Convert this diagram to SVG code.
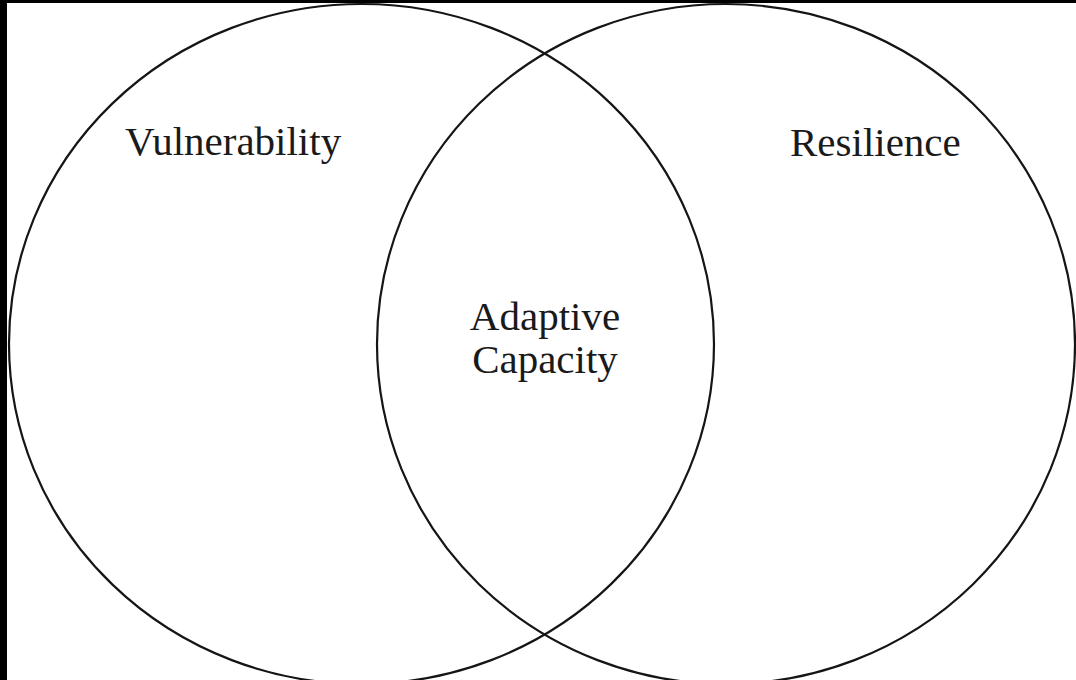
<svg xmlns="http://www.w3.org/2000/svg" width="1076" height="680" viewBox="0 0 1076 680">
<style>
.set{fill:none;stroke:#151515;stroke-width:2.2}
.lbl{font-family:"Liberation Serif","Times New Roman",serif;font-size:41px;fill:#1a1a1a}
</style>
<rect x="0" y="0" width="1076" height="680" fill="#ffffff"/>
<rect x="0" y="0" width="7" height="680" fill="#000000"/>
<rect x="0" y="0" width="1076" height="3" fill="#000000"/>
<g id="vulnerability">
<ellipse class="set" cx="361.5" cy="344" rx="352.5" ry="340"/>
<text class="lbl" x="125" y="155">Vulnerability</text>
</g>
<g id="resilience">
<ellipse class="set" cx="726" cy="344" rx="349" ry="340"/>
<text class="lbl" x="790" y="156">Resilience</text>
</g>
<g id="adaptive-capacity">
<text class="lbl" x="545" y="330" text-anchor="middle">Adaptive</text>
<text class="lbl" x="545" y="373" text-anchor="middle">Capacity</text>
</g>
<g id="connectors"></g>
</svg>
